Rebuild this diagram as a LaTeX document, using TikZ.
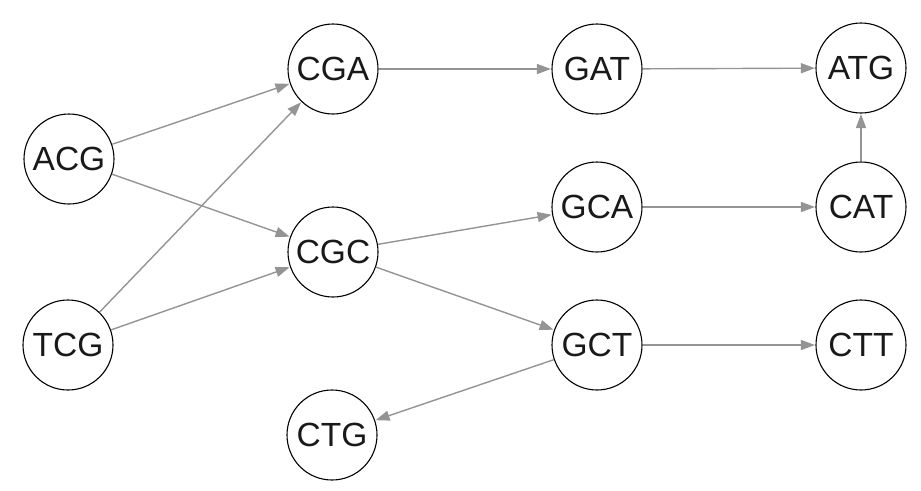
\documentclass[tikz,border=0pt]{standalone}
\usepackage{fontspec}
\setmainfont{Liberation Sans}
\usetikzlibrary{arrows.meta}
\begin{document}
\begin{tikzpicture}[x=1pt,y=-1pt,
  vtx/.style={circle,draw=black,line width=1.1pt,minimum size=90pt,inner sep=0pt,font=\fontsize{33.5}{33.5}\selectfont,text=black!90},
  edge/.style={draw=black!42,line width=1.4pt,-{Triangle[length=14pt,width=10pt]},shorten >=0.5pt}]
\useasboundingbox (0,0) rectangle (921,490);
\node[vtx] (ACG) at (69,159) {ACG};
\node[vtx] (TCG) at (68,345) {TCG};
\node[vtx] (CGA) at (333,69) {CGA};
\node[vtx] (CGC) at (333,252) {CGC};
\node[vtx] (CTG) at (332,435) {CTG};
\node[vtx] (GAT) at (597,69) {GAT};
\node[vtx] (GCA) at (597,207) {GCA};
\node[vtx] (GCT) at (597,345) {GCT};
\node[vtx] (ATG) at (861,68) {ATG};
\node[vtx] (CAT) at (861,207) {CAT};
\node[vtx] (CTT) at (861,345) {CTT};
\draw[edge] (ACG) -- (CGA);
\draw[edge] (ACG) -- (CGC);
\draw[edge] (TCG) -- (CGA);
\draw[edge] (TCG) -- (CGC);
\draw[edge] (CGA) -- (GAT);
\draw[edge] (GAT) -- (ATG);
\draw[edge] (CGC) -- (GCA);
\draw[edge] (CGC) -- (GCT);
\draw[edge] (GCA) -- (CAT);
\draw[edge] (CAT) -- (ATG);
\draw[edge] (GCT) -- (CTT);
\draw[edge] (GCT) -- (CTG);
\end{tikzpicture}
\end{document}
